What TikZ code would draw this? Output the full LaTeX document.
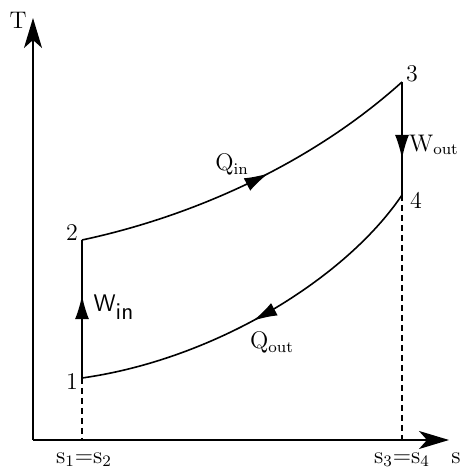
\documentclass[tikz,border=0pt]{standalone}
\usetikzlibrary{arrows.meta,decorations.markings}

\begin{document}
\begin{tikzpicture}[x=0.5pt,y=0.5pt,
  axis/.style={-{Stealth[length=15pt,width=9pt,inset=4pt]},line width=1pt},
  flow/.style={line width=0.8pt,postaction={decorate},
    decoration={markings,mark=at position #1 with {\arrow{Latex[length=12pt,width=7pt]}}}},
  guide/.style={densely dashed,line width=0.6pt},
  lbl/.style={font=\large,inner sep=1pt}]
\useasboundingbox (0,0) rectangle (468,475);

\coordinate (O) at (33,35);
\coordinate (Tend) at (33,457);
\coordinate (Send) at (449,35);
\coordinate (P1) at (82,97);
\coordinate (P2) at (82,235);
\coordinate (P3) at (402,393);
\coordinate (P4) at (402,280);
\coordinate (S12) at (82,35);
\coordinate (S34) at (402,35);

% axes
\draw[axis] (O) -- (Tend);
\draw[axis] (O) -- (Send);
\node[lbl] (Tlab) at (18,455) {T};
\node[lbl] (Slab) at (456,17) {s};

% cycle
\draw[flow=0.6] (P1) -- (P2);
\draw[flow=0.55] (P2) .. controls +(12:110) and +(222:125) .. (P3);
\draw[flow=0.68] (P3) -- (P4);
\draw[flow=0.52] (P4) .. controls +(236:100) and +(8:135) .. (P1);

\draw[guide] (P1) -- (S12);
\draw[guide] (P4) -- (S34);

\node[lbl] (L1) at (72,93) {1};
\node[lbl] (L2) at (72,242) {2};
\node[lbl] (L3) at (412,401) {3};
\node[lbl] (L4) at (416,275) {4};

\node[lbl] (Qin) at (232,310) {$\mathrm{Q_{in}}$};
\node[lbl] (Qout) at (272,132) {$\mathrm{Q_{out}}$};
\node[lbl] (Win) at (114,168) {\textsf{W}$_{\textsf{in}}$};
\node[lbl] (Wout) at (434,330) {$\mathrm{W_{out}}$};

\node[lbl] (s12) at (84,15) {$\mathrm{s_1{=}s_2}$};
\node[lbl] (s34) at (402,15) {$\mathrm{s_3{=}s_4}$};
\end{tikzpicture}
\end{document}
